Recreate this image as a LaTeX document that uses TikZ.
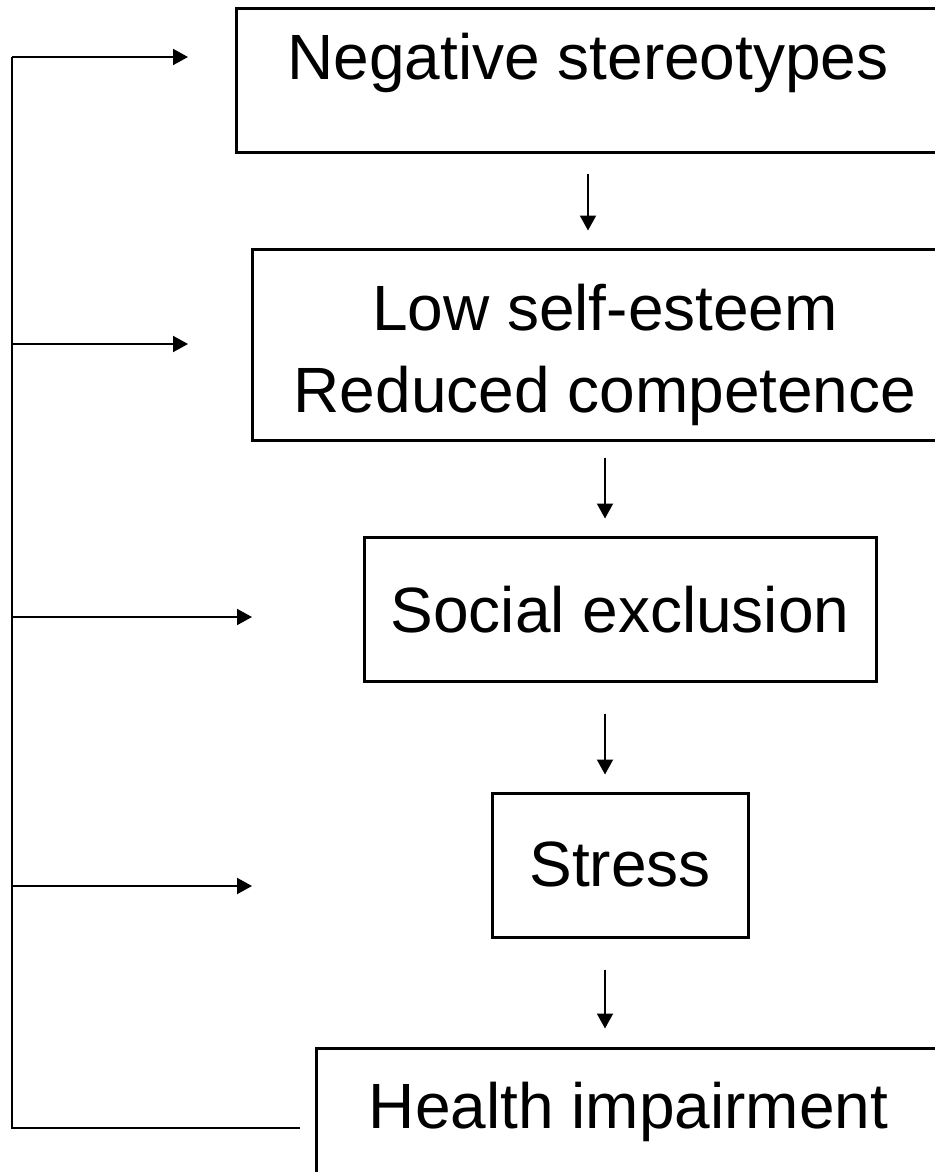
\documentclass[tikz,border=0pt]{standalone}
\usepackage{fontspec}
\setmainfont{Liberation Sans}
\usepackage{tikz}
\usetikzlibrary{arrows.meta}

\tikzset{
	box/.style={draw, line width=1.5pt, inner sep=0pt, font=\fontsize{32}{41}\selectfont},
	flow/.style={line width=1pt, -{Triangle[length=7.5pt, width=8pt]}},
	backline/.style={line width=1.2pt}
}

\begin{document}
\begin{tikzpicture}[x=0.5pt, y=-0.5pt]
		% Fix the page size and cut the boxes at the edge
		\useasboundingbox (0,0) rectangle (935,1172);
		\clip (0,0) rectangle (935,1172);
	
		% The chain of boxes
		\node[box, anchor=base, minimum width=352pt, text height=35.5pt, text depth=36pt] (neg) at (588,80) {Negative stereotypes};
		\node[box, minimum width=353pt, minimum height=95.5pt, align=center] (lse) at (605,344.5) {\rule{0pt}{34pt}Low self-esteem\\Reduced competence};
		\node[box, anchor=base, minimum width=256pt, text height=47.5pt, text depth=24.5pt] (soc) at (620,632) {Social exclusion};
		\node[box, anchor=base, minimum width=128pt, text height=46.5pt, text depth=25.5pt] (str) at (620,886) {Stress};
		\node[box, anchor=base, minimum width=312.5pt, text height=40pt, text depth=60pt] (hea) at (628.5,1128) {Health impairment};
	
		% Arrows down the chain
		\draw[flow, shorten <=10pt, shorten >=8.5pt] (neg.south) -- (neg.south |- lse.north);
		\draw[flow, shorten <=8pt, shorten >=8.5pt] (lse.south) -- (lse.south |- soc.north);
		\draw[flow, shorten <=15.5pt, shorten >=8.5pt] (lse.south |- soc.south) -- (lse.south |- str.north);
		\draw[flow, shorten <=15.5pt, shorten >=9pt] (lse.south |- str.south) -- (lse.south |- hea.north);
	
		% Feedback line on the left
		\coordinate (fbstart) at (300,1128);
		\coordinate (fbcorner) at (12,1128);
		\coordinate (fbtop) at (12,57);
		\draw[backline] (fbstart) -- (fbcorner) -- (fbtop);
	
		% Branches back to the boxes
		\foreach \y/\x [count=\i] in {57/188, 344/188, 617/252, 886/252} {
			\coordinate (b\i) at (12,\y);
			\coordinate (e\i) at (\x,\y);
			\draw[flow] (b\i) -- (e\i);
		}
	
	\end{tikzpicture}
\end{document}
